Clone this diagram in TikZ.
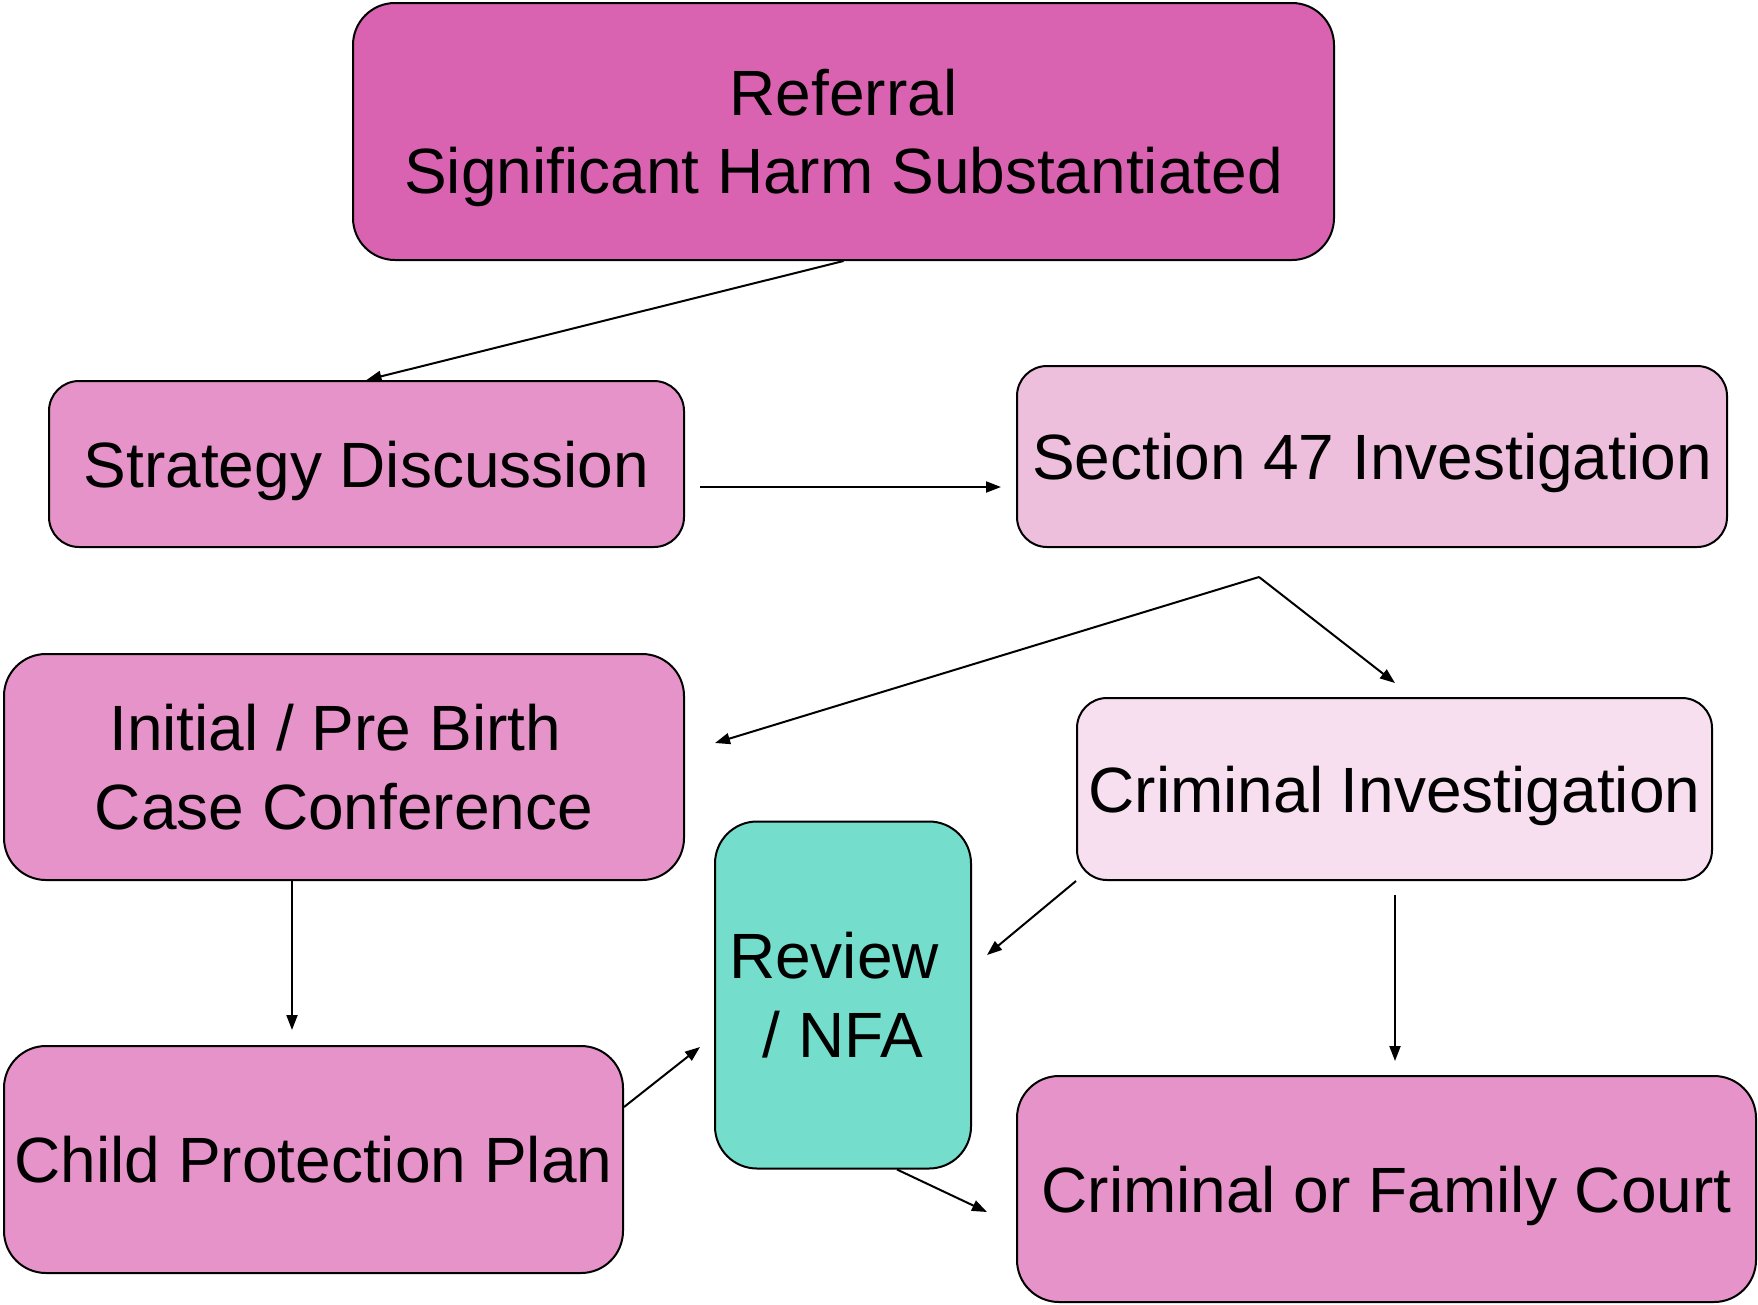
\documentclass[tikz,border=0pt]{standalone}
\definecolor{magentaDeep}{rgb}{0.851, 0.388, 0.690}
\definecolor{magentaMid}{rgb}{0.898, 0.576, 0.784}
\definecolor{magentaLight}{rgb}{0.933, 0.745, 0.867}
\definecolor{magentaPale}{rgb}{0.969, 0.875, 0.941}
\definecolor{turquoise}{rgb}{0.455, 0.867, 0.796}
\usepackage{fontspec}
\setmainfont{Liberation Sans}
\usepackage{tikz}
\usetikzlibrary{arrows.meta, positioning}

\begin{document}
\begin{tikzpicture}[x=1pt, y=-1pt,
			box/.style={draw, line width=2pt, rectangle, align=center, inner sep=0pt, text depth=0pt, font=\fontsize{64}{78.5}\selectfont},
			stageBox/.style={box, rounded corners=30pt},
			bigBox/.style={box, rounded corners=42pt},
			arrowStrong/.style={line width=2pt, -{Triangle[length=15pt, width=11pt]}},
			]
			\useasboundingbox (0,0) rectangle (1758,1304);
			
			% boxes
			\draw node[bigBox, fill=magentaDeep, minimum width=981pt, minimum height=257pt] (referral) at (843.5,131.5) {Referral\\Significant Harm Substantiated};
			
			\draw node[stageBox, fill=magentaMid, minimum width=635pt, minimum height=166pt] (strategy) at (366.5,464) {Strategy Discussion};
			\draw node[stageBox, fill=magentaLight, minimum width=710pt, minimum height=181pt] (sec47) at (1372,456.5) {Section 47 Investigation};
			
			\draw node[bigBox, fill=magentaMid, minimum width=680pt, minimum height=226pt] (initial) at (344,767) {Initial / Pre Birth\ \mbox{}\\Case Conference};
			\draw node[stageBox, fill=magentaPale, minimum width=635pt, minimum height=182pt] (crimInv) at (1394.5,789) {Criminal Investigation};
			
			\draw node[bigBox, fill=turquoise, minimum width=256pt, minimum height=347pt] (review) at (843,995) {Review\ \mbox{}\\/ NFA};
			
			\draw node[bigBox, fill=magentaMid, minimum width=619pt, minimum height=227pt] (cpp) at (313.5,1159.5) {Child Protection Plan};
			\draw node[bigBox, fill=magentaMid, minimum width=739pt, minimum height=226pt] (court) at (1386.5,1189) {Criminal or Family Court};
			
			% free ends
			\coordinate (sdOut) at (700,487);
			\coordinate (s47In) at (1001,487);
			\coordinate (fork) at (1259,577);
			\coordinate (initialIn) at (715,743);
			\coordinate (crimInvIn) at (1395,683);
			\coordinate (cppIn) at (292,1030);
			\coordinate (reviewInL) at (700,1047);
			\coordinate (reviewInR) at (987,955);
			\coordinate (courtOut) at (1395,895);
			\coordinate (courtInT) at (1395,1061);
			\coordinate (courtInL) at (987,1212);
			
			% Arrow
			\draw [arrowStrong] (referral.south) -- (strategy.north);
			\draw [arrowStrong] (sdOut) -- (s47In);
			\draw [arrowStrong] (fork) -- (initialIn);
			\draw [arrowStrong] (fork) -- (crimInvIn);
			\draw [arrowStrong] ([xshift=-52pt]initial.south) -- (cppIn);
			\draw [arrowStrong] ([yshift=52.5pt]cpp.east) -- (reviewInL);
			\draw [arrowStrong] (crimInv.south west) -- (reviewInR);
			\draw [arrowStrong] (courtOut) -- (courtInT);
			\draw [arrowStrong] ([xshift=54pt]review.south) -- (courtInL);
			
		\end{tikzpicture}
\end{document}
